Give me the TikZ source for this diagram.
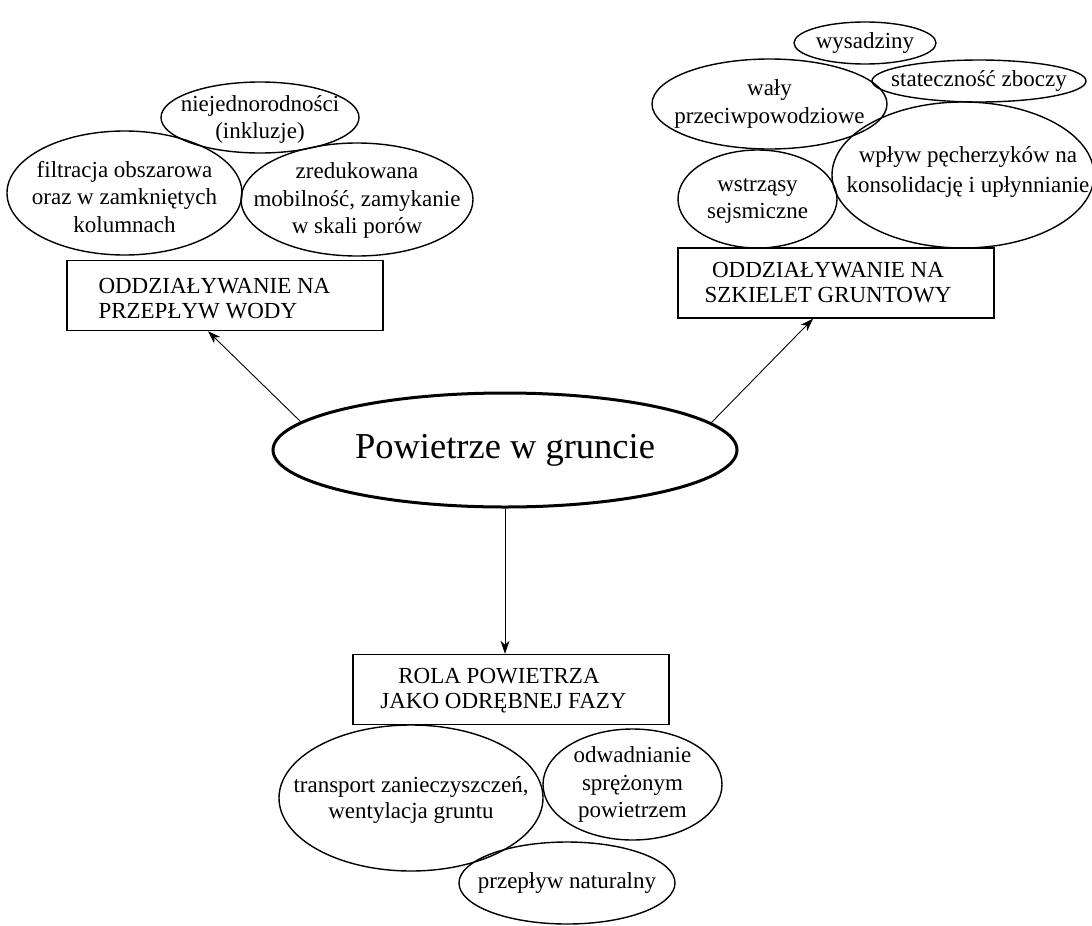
\documentclass[tikz,border=0pt]{standalone}
\usepackage{fontspec}
\setmainfont{Liberation Serif}
\usetikzlibrary{shapes.geometric,arrows.meta,calc}
\begin{document}
\begin{tikzpicture}[x=1pt,y=-1pt,
  bub/.style={draw, ellipse, line width=1.4pt, inner sep=0pt},
  btxt/.style={align=center, font=\fontsize{23}{27.5}\selectfont, inner sep=0pt},
  cat/.style={draw, rectangle, line width=1.4pt, minimum width=316pt, minimum height=70pt, inner sep=0pt},
  ctxt/.style={align=center, font=\fontsize{23}{25}\selectfont, inner sep=0pt},
  arr/.style={-{Stealth[length=13pt,width=9pt,inset=4pt]}, line width=0.9pt}]
\useasboundingbox (0,0) rectangle (1092,926);

% central node
\node[draw, ellipse, line width=3pt, minimum width=464pt, minimum height=114pt, inner sep=0pt,
      font=\fontsize{36.5}{40}\selectfont] (main) at (505,450) {Powietrze w gruncie};

% category boxes
\node[cat] (water) at (225,295.5) {};
\node[ctxt, align=left, anchor=west] (waterT) at ($(water.west)+(32,3)$) {ODDZIAŁYWANIE NA\\PRZEPŁYW WODY};
\node[cat] (skel) at (836,283) {};
\node[ctxt] (skelT) at ($(skel)+(-8,0)$) {ODDZIAŁYWANIE NA\\SZKIELET GRUNTOWY};
\node[cat] (phase) at (511,689.5) {};
\node[ctxt] (phaseT) at ($(phase)+(-7.5,1)$) {ROLA POWIETRZA\hspace*{9pt}\\JAKO ODRĘBNEJ FAZY};

% arrows
\draw[arr] ($(main.center)+(-204,-28)$) -- ($(water.south)+(-17,0)$);
\draw[arr] ($(main.center)+(206,-27)$) -- ($(skel.south)+(-23,0)$);
\draw[arr] (main.south) -- (phase.north -| main.south);

% water group
\node[bub, minimum width=198pt, minimum height=71pt] (niej) at (260,117.5) {};
\node[btxt] (niejT) at ($(niej)+(0,2)$) {niejednorodności\\(inkluzje)};
\node[bub, minimum width=235pt, minimum height=124pt] (filt) at (124.5,193) {};
\node[btxt] (filtT) at ($(filt)+(0,4)$) {filtracja obszarowa\\oraz w zamkniętych\\kolumnach};
\node[bub, minimum width=232pt, minimum height=113pt] (zred) at (357,199.5) {};
\node[btxt] (zredT) at ($(zred)+(0,1)$) {zredukowana\\mobilność, zamykanie\\w skali porów};

% skeleton group
\node[bub, minimum width=142pt, minimum height=42pt] (wys) at (865,43) {};
\node[btxt] (wysT) at (wys) {wysadziny};
\node[bub, minimum width=235pt, minimum height=90pt] (waly) at (769.5,104) {};
\node[btxt] (walyT) at (waly) {wały\\przeciwpowodziowe};
\node[bub, minimum width=214pt, minimum height=42pt] (stat) at (979,81) {};
\node[btxt] (statT) at (stat) {stateczność zboczy};
\node[bub, minimum width=262pt, minimum height=146pt] (wplyw) at (963,175) {};
\node[btxt, font=\fontsize{23}{30}\selectfont] (wplywT) at ($(wplyw)+(5,-3)$) {wpływ pęcherzyków na\\konsolidację i upłynnianie};
\node[bub, minimum width=159pt, minimum height=98pt] (wstrz) at (757.5,199) {};
\node[btxt] (wstrzT) at ($(wstrz)+(0,2)$) {wstrząsy\\sejsmiczne};

% phase group
\node[bub, minimum width=264pt, minimum height=146pt] (trans) at (411,798) {};
\node[btxt, font=\fontsize{23}{26}\selectfont] (transT) at ($(trans)+(0,2)$) {transport zanieczyszczeń,\\wentylacja gruntu};
\node[bub, minimum width=179pt, minimum height=111pt] (odw) at (632.5,784.5) {};
\node[btxt] (odwT) at (odw) {odwadnianie\\sprężonym\\powietrzem};
\node[bub, minimum width=216pt, minimum height=82pt] (nat) at (567,883) {};
\node[btxt] (natT) at (nat) {przepływ naturalny};
\end{tikzpicture}
\end{document}
